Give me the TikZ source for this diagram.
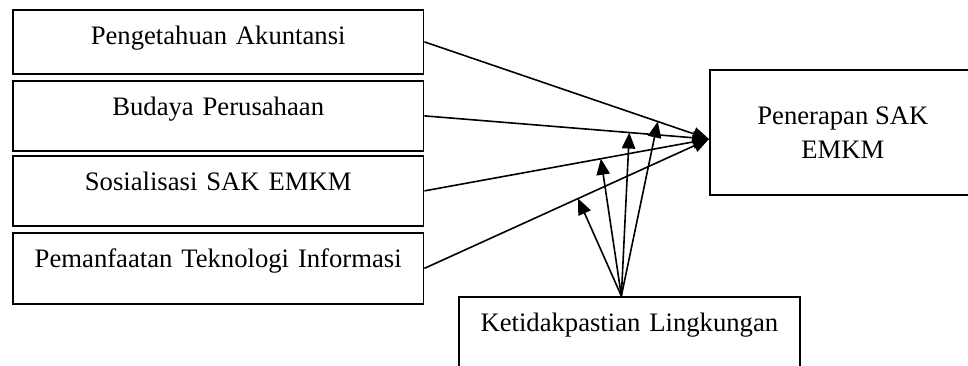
\documentclass[tikz,border=0pt]{standalone}
\usepackage{fontspec}
\setmainfont{Liberation Serif}
\usepackage{tikz}
\usetikzlibrary{calc}
\usetikzlibrary{arrows.meta}
\usetikzlibrary{positioning}

\tikzset{
  varbox/.style={draw, line width=1.3pt, inner sep=0pt, align=center,
    text width=308pt, text height=26pt, text depth=#1,
    font=\fontsize{20}{25}\selectfont},
  link/.style={line width=1.2pt, -{Triangle[length=12pt,width=10pt]}}
}

\begin{document}
\begin{tikzpicture}[x=0.75pt,y=0.75pt,yscale=-1,xscale=1]
\clip (0,0) rectangle (968,365);
\fill[white] (0,0) rectangle (968,365);
% variabel independen
\node (ak) [varbox=22pt, anchor=north west] at (12,9) {Pengetahuan Akuntansi};
\node (bp) [varbox=26.5pt, anchor=north west] at (12,80) {Budaya Perusahaan};
\node (sos) [varbox=26.5pt, anchor=north west] at (12,155) {Sosialisasi SAK EMKM};
\node (ti) [varbox=27.25pt, anchor=north west] at (12,232) {Pemanfaatan Teknologi Informasi};
% variabel dependen
\node (sak) [draw, line width=1.3pt, inner sep=0pt, anchor=north west, minimum width=199.5pt, minimum height=93.75pt, align=center, font=\fontsize{20}{25.5}\selectfont] at (709,69) {Penerapan SAK\\EMKM};
% variabel moderasi
\node (lk) [draw, line width=1.3pt, inner sep=0pt, anchor=north west, text width=255.75pt, align=center, text height=26pt, text depth=31pt, font=\fontsize{20}{25}\selectfont] at (458,296) {Ketidakpastian Lingkungan};
\coordinate (tip) at ([yshift=5pt]sak.west);
\coordinate (src) at ([xshift=-6pt]lk.north);
\foreach \v/\p [count=\i] in {ak/0.82, bp/0.72, sos/0.62, ti/0.54} {
  \draw[link] (\v.east) -- (tip);
  \coordinate (m\i) at ($(\v.east)!\p!(tip)$);
  \draw[link] (src) -- (m\i);
}
\end{tikzpicture}
\end{document}
